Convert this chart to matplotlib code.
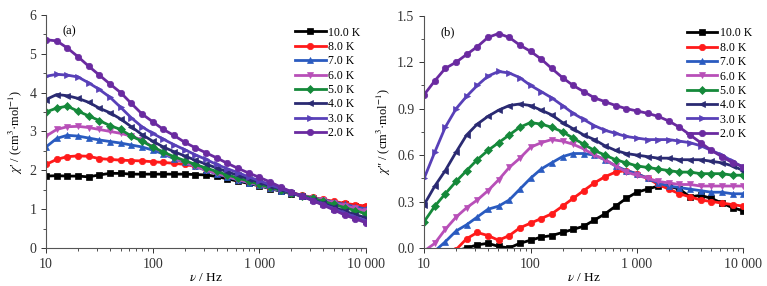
import matplotlib
matplotlib.use("Agg")
import matplotlib.pyplot as plt
from matplotlib.ticker import FixedLocator, LogLocator, MultipleLocator, NullFormatter

plt.rcParams['font.family'] = ['Liberation Serif', 'DejaVu Serif']
plt.rcParams['mathtext.fontset'] = 'stix'

freq = [10, 12.6, 15.8, 20, 25.1, 31.6, 39.8, 50.1, 63.1, 79.4, 100, 126, 158, 200, 251,
        316, 398, 501, 631, 794, 1000, 1259, 1585, 1995, 2512, 3162, 3981, 5012, 6310, 7943, 10000]

labels = ["10.0 K", "8.0 K", "7.0 K", "6.0 K", "5.0 K", "4.0 K", "3.0 K", "2.0 K"]
colors = ["#000000", "#ff1a1a", "#2a5bc0", "#b84fb8", "#15893a", "#2a2a72", "#5840b8", "#6a2aa0"]
markers = ["s", "o", "^", "v", "D", "<", ">", "o"]

# chi' (panel a)
chi1_10K = [1.85, 1.86, 1.85, 1.85, 1.83, 1.88, 1.92, 1.92, 1.90, 1.90, 1.90, 1.90, 1.90, 1.90, 1.89, 1.88,
            1.84, 1.78, 1.72, 1.66, 1.60, 1.53, 1.46, 1.40, 1.34, 1.28, 1.22, 1.16, 1.12, 1.08, 1.05]
chi1_8K = [2.15, 2.28, 2.35, 2.37, 2.36, 2.30, 2.28, 2.26, 2.25, 2.24, 2.22, 2.20, 2.18, 2.15, 2.10, 2.03,
           1.95, 1.86, 1.78, 1.70, 1.62, 1.55, 1.48, 1.42, 1.36, 1.30, 1.25, 1.20, 1.15, 1.11, 1.08]
chi1_7K = [2.60, 2.82, 2.90, 2.88, 2.83, 2.78, 2.74, 2.70, 2.65, 2.60, 2.52, 2.42, 2.30, 2.20, 2.10, 2.00,
           1.91, 1.83, 1.75, 1.68, 1.61, 1.54, 1.47, 1.41, 1.35, 1.29, 1.24, 1.18, 1.12, 1.06, 1.00]
chi1_6K = [2.88, 3.05, 3.12, 3.13, 3.10, 3.05, 3.00, 2.95, 2.88, 2.78, 2.60, 2.45, 2.32, 2.20, 2.10, 2.00,
           1.92, 1.84, 1.76, 1.69, 1.62, 1.55, 1.48, 1.41, 1.35, 1.29, 1.23, 1.16, 1.09, 1.02, 0.95]
chi1_5K = [3.50, 3.60, 3.65, 3.52, 3.40, 3.28, 3.15, 3.05, 2.88, 2.75, 2.60, 2.47, 2.35, 2.25, 2.15, 2.06,
           1.97, 1.88, 1.80, 1.72, 1.64, 1.56, 1.49, 1.42, 1.35, 1.28, 1.20, 1.12, 1.04, 0.96, 0.88]
chi1_4K = [3.82, 3.95, 3.92, 3.85, 3.75, 3.60, 3.48, 3.32, 3.12, 2.92, 2.75, 2.60, 2.48, 2.37, 2.26, 2.16,
           2.06, 1.96, 1.87, 1.78, 1.69, 1.60, 1.51, 1.42, 1.33, 1.24, 1.15, 1.05, 0.95, 0.86, 0.78]
chi1_3K = [4.42, 4.47, 4.45, 4.40, 4.25, 4.08, 3.88, 3.62, 3.35, 3.12, 2.95, 2.80, 2.66, 2.53, 2.40, 2.28,
           2.15, 2.04, 1.94, 1.83, 1.73, 1.63, 1.53, 1.43, 1.33, 1.23, 1.12, 1.01, 0.90, 0.80, 0.70]
chi1_2K = [5.36, 5.33, 5.15, 4.92, 4.68, 4.45, 4.22, 4.00, 3.72, 3.45, 3.25, 3.05, 2.90, 2.72, 2.58, 2.45,
           2.32, 2.18, 2.05, 1.93, 1.82, 1.70, 1.57, 1.45, 1.33, 1.22, 1.10, 0.98, 0.85, 0.75, 0.65]

# chi'' (panel b)
chi2_10K = [-0.10, -0.08, -0.05, -0.02, 0.00, 0.02, 0.03, 0.01, 0.00, 0.03, 0.05, 0.07, 0.08, 0.10, 0.12, 0.14,
            0.18, 0.22, 0.27, 0.32, 0.36, 0.38, 0.40, 0.40, 0.38, 0.33, 0.34, 0.32, 0.29, 0.26, 0.24]
chi2_8K = [-0.15, -0.12, -0.08, -0.01, 0.06, 0.10, 0.08, 0.05, 0.08, 0.13, 0.16, 0.19, 0.22, 0.27, 0.32, 0.37,
           0.42, 0.46, 0.49, 0.50, 0.48, 0.45, 0.41, 0.38, 0.35, 0.33, 0.31, 0.30, 0.29, 0.28, 0.27]
chi2_7K = [-0.06, -0.02, 0.04, 0.11, 0.15, 0.20, 0.25, 0.27, 0.31, 0.38, 0.45, 0.51, 0.55, 0.59, 0.61, 0.61,
           0.60, 0.57, 0.53, 0.50, 0.48, 0.45, 0.42, 0.40, 0.39, 0.38, 0.37, 0.36, 0.36, 0.35, 0.35]
chi2_6K = [-0.02, 0.03, 0.12, 0.20, 0.26, 0.31, 0.37, 0.44, 0.52, 0.58, 0.65, 0.68, 0.70, 0.69, 0.67, 0.64,
           0.60, 0.57, 0.53, 0.49, 0.47, 0.45, 0.43, 0.42, 0.41, 0.41, 0.40, 0.40, 0.40, 0.40, 0.40]
chi2_5K = [0.17, 0.27, 0.35, 0.43, 0.50, 0.57, 0.63, 0.68, 0.73, 0.78, 0.81, 0.80, 0.78, 0.75, 0.71, 0.67,
           0.63, 0.60, 0.57, 0.55, 0.53, 0.52, 0.51, 0.50, 0.49, 0.49, 0.48, 0.48, 0.48, 0.47, 0.47]
chi2_4K = [0.28, 0.40, 0.50, 0.62, 0.73, 0.80, 0.85, 0.89, 0.92, 0.93, 0.92, 0.89, 0.86, 0.81, 0.77, 0.73,
           0.70, 0.66, 0.63, 0.61, 0.60, 0.59, 0.58, 0.58, 0.57, 0.57, 0.57, 0.56, 0.55, 0.53, 0.50]
chi2_3K = [0.45, 0.62, 0.78, 0.90, 0.98, 1.05, 1.11, 1.14, 1.13, 1.10, 1.05, 1.01, 0.97, 0.92, 0.87, 0.83,
           0.79, 0.76, 0.74, 0.72, 0.71, 0.70, 0.70, 0.70, 0.69, 0.68, 0.66, 0.63, 0.60, 0.56, 0.52]
chi2_2K = [0.99, 1.08, 1.16, 1.20, 1.25, 1.30, 1.36, 1.385, 1.36, 1.31, 1.27, 1.22, 1.16, 1.10, 1.05, 1.01,
           0.97, 0.945, 0.92, 0.90, 0.885, 0.87, 0.85, 0.82, 0.78, 0.73, 0.68, 0.63, 0.59, 0.55, 0.525]

series_a = [chi1_10K, chi1_8K, chi1_7K, chi1_6K, chi1_5K, chi1_4K, chi1_3K, chi1_2K]
series_b = [chi2_10K, chi2_8K, chi2_7K, chi2_6K, chi2_5K, chi2_4K, chi2_3K, chi2_2K]

xticks = [10, 100, 1000, 10000]
xticklabels = ["10", "100", "1 000", "10 000"]

fig = plt.figure(figsize=(7.67, 2.86), dpi=100)
ax1 = fig.add_axes([0.060, 0.133, 0.417, 0.815])
ax2 = fig.add_axes([0.553, 0.133, 0.416, 0.812])


def style(ax, series, ylim, yticks, yticklabels, minor, ylabel, tag, legx):
    for vals, lab, c, m in zip(series, labels, colors, markers):
        ms = 4.6 if m != "D" else 3.8
        ax.plot(freq, vals, color=c, marker=m, markersize=ms, linewidth=2.0, label=lab,
                markeredgewidth=0.5, clip_on=True)
    ax.set_xscale("log")
    ax.set_xlim(10, 10000)
    ax.set_ylim(*ylim)
    ax.xaxis.set_major_locator(FixedLocator(xticks))
    ax.set_xticklabels(xticklabels)
    ax.xaxis.set_minor_locator(LogLocator(base=10, subs=range(2, 10)))
    ax.xaxis.set_minor_formatter(NullFormatter())
    ax.set_yticks(yticks)
    ax.set_yticklabels(yticklabels)
    ax.yaxis.set_minor_locator(MultipleLocator(minor))
    for s in ("top", "right"):
        ax.spines[s].set_visible(False)
    for s in ("left", "bottom"):
        ax.spines[s].set_linewidth(0.8)
        ax.spines[s].set_color("#555555")
    ax.tick_params(which="major", direction="out", length=3.5, width=0.7, labelsize=10, colors="#333333")
    ax.tick_params(which="minor", direction="out", length=2, width=0.6, colors="#333333")
    ax.set_xlabel(r"$\nu$ / Hz", fontsize=9.5, labelpad=1)
    ax.set_ylabel(ylabel, fontsize=9, labelpad=3)
    ax.text(0.05, 0.93, tag, transform=ax.transAxes, fontsize=9, va="center", ha="left")
    ax.legend(loc="upper right", bbox_to_anchor=(legx, 0.98), frameon=False, fontsize=8.5,
              handlelength=2.6, handletextpad=0.2, labelspacing=0.2, borderaxespad=0.2)


style(ax1, series_a, (0, 6), list(range(0, 7)), [str(v) for v in range(0, 7)], 0.5,
      r"$\chi$′ / (cm$^3$·mol$^{-1}$)", "(a)", 1.005)
style(ax2, series_b, (0, 1.5), [0.0, 0.3, 0.6, 0.9, 1.2, 1.5],
      ["0.0", "0.3", "0.6", "0.9", "1.2", "1.5"], 0.15,
      r"$\chi$″ / (cm$^3$·mol$^{-1}$)", "(b)", 1.05)

fig.savefig("out.png", dpi=100)
